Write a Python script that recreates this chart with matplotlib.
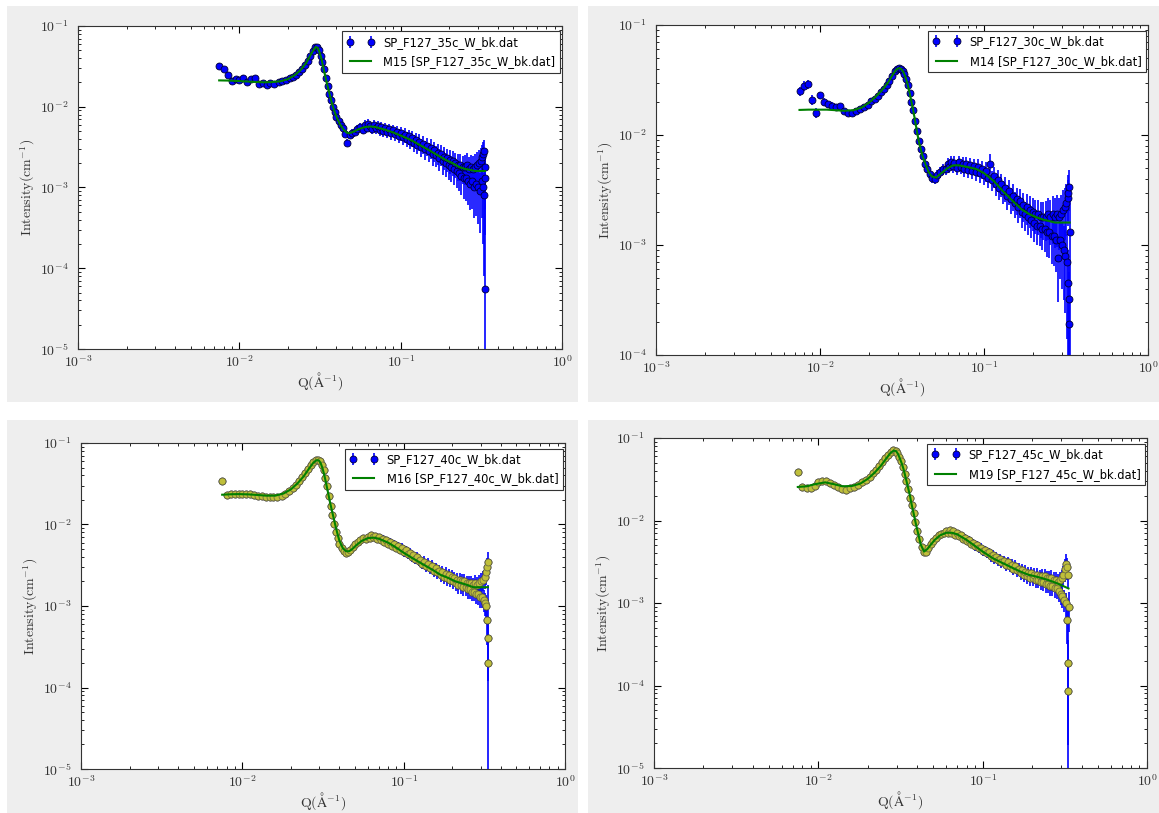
import numpy as np
import matplotlib
matplotlib.use('Agg')
import matplotlib.pyplot as plt
from matplotlib.patches import Rectangle
from matplotlib.ticker import FuncFormatter, LogLocator

plt.rcParams['mathtext.fontset'] = 'cm'

# measured Q grid (A^-1), shared by the four runs
q = [0.0075, 0.0080, 0.0085, 0.0090, 0.0095, 0.0100, 0.0106, 0.0112, 0.0118, 0.0125,
     0.0132, 0.0140, 0.0148, 0.0156, 0.0165, 0.0175, 0.0185, 0.0195, 0.0205, 0.0215,
     0.0225, 0.0235, 0.0245, 0.0255, 0.0265, 0.0275, 0.0285, 0.0295, 0.0303, 0.0311,
     0.0319, 0.0327, 0.0335, 0.0343, 0.0352, 0.0361, 0.0370, 0.0380, 0.0390, 0.0400,
     0.0412, 0.0425, 0.0438, 0.0452, 0.0467, 0.0483, 0.0500, 0.0520, 0.0540, 0.0560,
     0.0585, 0.0600, 0.0615, 0.0630, 0.0645, 0.0660, 0.0680, 0.0700, 0.0720, 0.0740,
     0.0760, 0.0780, 0.0800, 0.0825, 0.0850, 0.0875, 0.0900, 0.0925, 0.0950, 0.0975,
     0.1000, 0.1030, 0.1060, 0.1090, 0.1120, 0.1150, 0.1180, 0.1210, 0.1240, 0.1270,
     0.1300, 0.1340, 0.1380, 0.1420, 0.1460, 0.1500, 0.1540, 0.1580, 0.1620, 0.1660,
     0.1700, 0.1740, 0.1780, 0.1820, 0.1860, 0.1900, 0.1940, 0.1980, 0.2020, 0.2060,
     0.2100, 0.2140, 0.2180, 0.2220, 0.2260, 0.2300, 0.2340, 0.2380, 0.2420, 0.2460,
     0.2500, 0.2540, 0.2580, 0.2620, 0.2660, 0.2700, 0.2740, 0.2780, 0.2820, 0.2860,
     0.2900, 0.2940, 0.2980, 0.3020, 0.3060, 0.3100, 0.3140, 0.3170, 0.3200, 0.3230,
     0.3250, 0.3270, 0.3290, 0.3310, 0.3320, 0.3330]

# Q grid of the model curves
fit_q = [0.0075, 0.0085, 0.0095, 0.011, 0.0125, 0.014, 0.016, 0.018, 0.020, 0.022,
         0.024, 0.026, 0.0275, 0.0288, 0.0298, 0.0306, 0.0314, 0.0322, 0.033, 0.034,
         0.035, 0.036, 0.037, 0.038, 0.039, 0.040, 0.042, 0.044, 0.046, 0.048,
         0.051, 0.055, 0.060, 0.065, 0.070, 0.080, 0.090, 0.100, 0.115, 0.130,
         0.150, 0.170, 0.190, 0.210, 0.230, 0.250, 0.270, 0.290, 0.310, 0.333]

# 35c
I_35c = [0.032, 0.029, 0.025, 0.021, 0.022, 0.0215, 0.023, 0.0205, 0.022, 0.0225,
         0.019, 0.0195, 0.0188, 0.0198, 0.0192, 0.0200, 0.0206, 0.0212, 0.0225, 0.0232,
         0.0250, 0.0272, 0.0295, 0.0325, 0.0370, 0.0430, 0.0495, 0.0548, 0.0550, 0.0500,
         0.0430, 0.0355, 0.0290, 0.0230, 0.0180, 0.0145, 0.0120, 0.0100, 0.0085, 0.0074,
         0.0066, 0.0060, 0.0054, 0.0046, 0.0036, 0.0045, 0.0047, 0.0049, 0.0053, 0.0056,
         0.0052, 0.0060, 0.0055, 0.0062, 0.0057, 0.0053, 0.0060, 0.0054, 0.0058, 0.0051,
         0.0056, 0.0050, 0.0054, 0.0049, 0.0053, 0.0047, 0.0051, 0.0046, 0.0049, 0.0044,
         0.0047, 0.0042, 0.0045, 0.0040, 0.0043, 0.0038, 0.0041, 0.0036, 0.0039, 0.0034,
         0.0037, 0.0032, 0.0035, 0.0030, 0.0033, 0.0028, 0.0031, 0.0026, 0.0029, 0.0025,
         0.0027, 0.0023, 0.0026, 0.0021, 0.0024, 0.0020, 0.0023, 0.0019, 0.0022, 0.0018,
         0.0021, 0.0017, 0.0020, 0.0016, 0.0019, 0.0015, 0.0019, 0.0014, 0.0018, 0.0013,
         0.0018, 0.0013, 0.0019, 0.0012, 0.0017, 0.0011, 0.0018, 0.0012, 0.0017, 0.0010,
         0.0018, 0.0011, 0.0019, 0.0010, 0.0020, 0.0009, 0.0021, 0.0012, 0.0024, 0.0010,
         0.0026, 0.0008, 0.0028, 0.0013, 0.0018, 0.000055]
err_35c = [0.08, 0.08, 0.08, 0.07, 0.07, 0.07, 0.06, 0.06, 0.06, 0.06,
           0.05, 0.05, 0.05, 0.05, 0.05, 0.05, 0.05, 0.05, 0.05, 0.05,
           0.05, 0.05, 0.05, 0.05, 0.05, 0.05, 0.05, 0.05, 0.05, 0.05,
           0.05, 0.05, 0.05, 0.05, 0.05, 0.05, 0.05, 0.05, 0.05, 0.05,
           0.06, 0.06, 0.07, 0.08, 0.10, 0.10, 0.12, 0.12, 0.12, 0.12,
           0.12, 0.13, 0.12, 0.13, 0.13, 0.14, 0.13, 0.14, 0.14, 0.15,
           0.15, 0.16, 0.15, 0.16, 0.16, 0.17, 0.17, 0.18, 0.18, 0.19,
           0.19, 0.20, 0.20, 0.21, 0.21, 0.22, 0.22, 0.23, 0.23, 0.24,
           0.24, 0.25, 0.25, 0.26, 0.26, 0.27, 0.27, 0.28, 0.28, 0.29,
           0.29, 0.30, 0.30, 0.32, 0.31, 0.33, 0.32, 0.34, 0.33, 0.35,
           0.34, 0.36, 0.35, 0.38, 0.36, 0.40, 0.37, 0.42, 0.38, 0.45,
           0.40, 0.48, 0.40, 0.50, 0.42, 0.52, 0.42, 0.55, 0.45, 0.58,
           0.45, 0.60, 0.45, 0.65, 0.45, 0.70, 0.45, 0.65, 0.40, 0.80,
           0.40, 0.90, 0.40, 0.80, 0.70, 30.0]
fit_35c = [0.0212, 0.0211, 0.0209, 0.0206, 0.0203, 0.0201, 0.0202, 0.0207, 0.0220, 0.0245,
           0.0285, 0.0350, 0.0430, 0.0505, 0.0550, 0.0535, 0.0475, 0.0400, 0.0320, 0.0245,
           0.0190, 0.0152, 0.0122, 0.0101, 0.0086, 0.0075, 0.0061, 0.0053, 0.0048, 0.0047,
           0.0049, 0.0053, 0.0056, 0.0057, 0.0056, 0.0052, 0.0048, 0.0044, 0.0039, 0.0034,
           0.0029, 0.0025, 0.0022, 0.0020, 0.0018, 0.0017, 0.00165, 0.0016, 0.0016, 0.0016]

# 30c
I_30c = [0.025, 0.028, 0.029, 0.021, 0.016, 0.023, 0.020, 0.019, 0.0185, 0.0178,
         0.0182, 0.0165, 0.0158, 0.0160, 0.0165, 0.0172, 0.0178, 0.0188, 0.0205, 0.0212,
         0.0228, 0.0245, 0.0262, 0.0285, 0.0312, 0.0345, 0.0378, 0.0395, 0.0405, 0.0402,
         0.0385, 0.0360, 0.0320, 0.0285, 0.0240, 0.0200, 0.0168, 0.0135, 0.0108, 0.0088,
         0.0075, 0.0064, 0.0055, 0.0049, 0.0044, 0.0041, 0.0040, 0.0043, 0.0046, 0.0049,
         0.0049, 0.0055, 0.0051, 0.0057, 0.0052, 0.0056, 0.0050, 0.0057, 0.0051, 0.0055,
         0.0049, 0.0054, 0.0048, 0.0053, 0.0047, 0.0052, 0.0046, 0.0051, 0.0045, 0.0049,
         0.0043, 0.0047, 0.0041, 0.0055, 0.0039, 0.0042, 0.0036, 0.0039, 0.0033, 0.0036,
         0.0031, 0.0033, 0.0028, 0.0031, 0.0026, 0.0028, 0.0024, 0.0026, 0.0022, 0.0025,
         0.0020, 0.0023, 0.0019, 0.0022, 0.0018, 0.0021, 0.0017, 0.0020, 0.0016, 0.0019,
         0.0015, 0.0019, 0.0015, 0.0018, 0.0014, 0.0018, 0.0014, 0.0018, 0.0013, 0.0019,
         0.0013, 0.0018, 0.0012, 0.0019, 0.0012, 0.0018, 0.0011, 0.0019, 0.00076, 0.0018,
         0.0011, 0.0019, 0.0010, 0.0021, 0.0009, 0.0022, 0.0008, 0.0024, 0.0007, 0.0027,
         0.00045, 0.0030, 0.00032, 0.0034, 0.00019, 0.0013]
err_30c = [0.10, 0.10, 0.10, 0.10, 0.10, 0.08, 0.08, 0.07, 0.07, 0.06,
           0.06, 0.05, 0.05, 0.05, 0.05, 0.05, 0.05, 0.05, 0.05, 0.05,
           0.05, 0.05, 0.05, 0.05, 0.05, 0.05, 0.05, 0.05, 0.05, 0.05,
           0.05, 0.05, 0.05, 0.05, 0.05, 0.05, 0.05, 0.05, 0.05, 0.05,
           0.06, 0.06, 0.07, 0.08, 0.09, 0.10, 0.10, 0.11, 0.12, 0.12,
           0.12, 0.13, 0.12, 0.13, 0.13, 0.14, 0.13, 0.14, 0.14, 0.15,
           0.15, 0.16, 0.15, 0.16, 0.16, 0.17, 0.17, 0.18, 0.18, 0.19,
           0.19, 0.20, 0.20, 0.21, 0.21, 0.22, 0.22, 0.23, 0.23, 0.24,
           0.24, 0.25, 0.25, 0.26, 0.26, 0.27, 0.27, 0.28, 0.28, 0.29,
           0.29, 0.30, 0.30, 0.31, 0.31, 0.32, 0.32, 0.33, 0.33, 0.34,
           0.34, 0.35, 0.35, 0.36, 0.36, 0.38, 0.38, 0.40, 0.40, 0.42,
           0.42, 0.44, 0.44, 0.46, 0.46, 0.48, 0.48, 0.50, 0.60, 0.50,
           0.55, 0.50, 0.60, 0.50, 0.65, 0.50, 0.70, 0.50, 0.80, 0.45,
           1.00, 0.45, 1.20, 0.40, 2.00, 1.50]
fit_30c = [0.0169, 0.0170, 0.0170, 0.0170, 0.0168, 0.0166, 0.0168, 0.0178, 0.0198, 0.0225,
           0.0258, 0.0300, 0.0345, 0.0385, 0.0402, 0.0405, 0.0395, 0.0375, 0.0345, 0.0300,
           0.0250, 0.0205, 0.0168, 0.0135, 0.0108, 0.0088, 0.0066, 0.0054, 0.0046, 0.0042,
           0.0041, 0.0045, 0.0050, 0.0053, 0.0053, 0.0051, 0.0049, 0.0045, 0.0038, 0.0031,
           0.0025, 0.0021, 0.0019, 0.00178, 0.0017, 0.00165, 0.0016, 0.0016, 0.0016, 0.0016]

# 40c
I_40c = [0.034, 0.0232, 0.0236, 0.0238, 0.0240, 0.0237, 0.0239, 0.0234, 0.0232, 0.0226,
         0.0224, 0.0220, 0.0218, 0.0216, 0.0220, 0.0226, 0.0238, 0.0255, 0.0280, 0.0305,
         0.0340, 0.0380, 0.0425, 0.0475, 0.0530, 0.0578, 0.0612, 0.0620, 0.0595, 0.0540,
         0.0460, 0.0375, 0.0295, 0.0225, 0.0170, 0.0130, 0.0102, 0.0082, 0.0068, 0.0058,
         0.0051, 0.0047, 0.0045, 0.0046, 0.0049, 0.0053, 0.0057, 0.0061, 0.0065, 0.0068,
         0.0066, 0.0071, 0.0068, 0.0074, 0.0070, 0.0073, 0.0067, 0.0070, 0.0064, 0.0067,
         0.0061, 0.0064, 0.0058, 0.0061, 0.0055, 0.0058, 0.0052, 0.0055, 0.0049, 0.0052,
         0.0046, 0.0048, 0.0043, 0.0045, 0.0040, 0.0042, 0.0038, 0.0040, 0.0036, 0.0037,
         0.0033, 0.0035, 0.0031, 0.0033, 0.0029, 0.0031, 0.0027, 0.0029, 0.0026, 0.0027,
         0.0024, 0.0026, 0.0023, 0.0025, 0.0022, 0.0024, 0.0021, 0.0023, 0.0020, 0.0022,
         0.0019, 0.0021, 0.0018, 0.0021, 0.0018, 0.0020, 0.0017, 0.0020, 0.0017, 0.0019,
         0.0016, 0.0019, 0.0016, 0.0019, 0.0015, 0.0018, 0.0015, 0.0019, 0.0014, 0.0018,
         0.0014, 0.0019, 0.0013, 0.0020, 0.0013, 0.0021, 0.0012, 0.0023, 0.0011, 0.0026,
         0.0010, 0.0030, 0.00067, 0.0035, 0.00040, 0.00020]
err_40c = [0.06, 0.05, 0.05, 0.05, 0.05, 0.05, 0.05, 0.04, 0.04, 0.04,
           0.04, 0.04, 0.04, 0.04, 0.04, 0.04, 0.04, 0.04, 0.04, 0.04,
           0.04, 0.04, 0.04, 0.04, 0.04, 0.04, 0.04, 0.04, 0.04, 0.04,
           0.04, 0.04, 0.04, 0.04, 0.04, 0.04, 0.04, 0.04, 0.04, 0.04,
           0.05, 0.05, 0.05, 0.06, 0.06, 0.06, 0.07, 0.07, 0.07, 0.08,
           0.08, 0.08, 0.08, 0.09, 0.09, 0.09, 0.09, 0.10, 0.10, 0.10,
           0.10, 0.11, 0.11, 0.11, 0.11, 0.12, 0.12, 0.12, 0.12, 0.13,
           0.13, 0.13, 0.13, 0.14, 0.14, 0.14, 0.14, 0.15, 0.15, 0.15,
           0.15, 0.16, 0.16, 0.16, 0.16, 0.17, 0.17, 0.17, 0.17, 0.18,
           0.18, 0.18, 0.18, 0.19, 0.19, 0.19, 0.19, 0.20, 0.20, 0.20,
           0.20, 0.21, 0.21, 0.21, 0.21, 0.22, 0.22, 0.22, 0.22, 0.23,
           0.23, 0.23, 0.23, 0.24, 0.24, 0.24, 0.24, 0.25, 0.25, 0.25,
           0.26, 0.26, 0.27, 0.27, 0.28, 0.28, 0.30, 0.30, 0.32, 0.30,
           0.35, 0.30, 0.50, 0.30, 0.70, 8.0]
fit_40c = [0.0232, 0.0235, 0.0236, 0.0234, 0.0230, 0.0226, 0.0226, 0.0240, 0.0270, 0.0320,
           0.0390, 0.0490, 0.0570, 0.0615, 0.0612, 0.0565, 0.0490, 0.0405, 0.0325, 0.0245,
           0.0185, 0.0145, 0.0115, 0.0092, 0.0075, 0.0063, 0.0051, 0.0047, 0.0047, 0.0050,
           0.0056, 0.0063, 0.0068, 0.0069, 0.0067, 0.0060, 0.0052, 0.0045, 0.0038, 0.0033,
           0.0028, 0.0024, 0.0022, 0.0020, 0.0019, 0.0018, 0.0017, 0.0017, 0.0017, 0.0017]

# 45c
I_45c = [0.039, 0.0252, 0.0250, 0.0248, 0.0262, 0.0290, 0.0305, 0.0298, 0.0282, 0.0270,
         0.0258, 0.0240, 0.0237, 0.0245, 0.0258, 0.0272, 0.0290, 0.0312, 0.0340, 0.0375,
         0.0415, 0.0460, 0.0510, 0.0565, 0.0625, 0.0675, 0.0710, 0.0700, 0.0650, 0.0590,
         0.0520, 0.0450, 0.0370, 0.0300, 0.0240, 0.0190, 0.0152, 0.0122, 0.0095, 0.0075,
         0.0060, 0.0048, 0.0041, 0.0042, 0.0046, 0.0052, 0.0057, 0.0062, 0.0066, 0.0069,
         0.0070, 0.0075, 0.0071, 0.0076, 0.0070, 0.0074, 0.0067, 0.0070, 0.0064, 0.0066,
         0.0060, 0.0062, 0.0056, 0.0058, 0.0052, 0.0054, 0.0049, 0.0050, 0.0046, 0.0047,
         0.0043, 0.0044, 0.0040, 0.0041, 0.0037, 0.0038, 0.0035, 0.0036, 0.0033, 0.0034,
         0.0031, 0.0032, 0.0029, 0.0031, 0.0028, 0.0029, 0.0026, 0.0028, 0.0025, 0.0026,
         0.0023, 0.0025, 0.0022, 0.0024, 0.0021, 0.0023, 0.0020, 0.0023, 0.0020, 0.0022,
         0.0019, 0.0022, 0.0019, 0.0021, 0.0018, 0.0021, 0.0018, 0.0021, 0.0017, 0.0020,
         0.0017, 0.0020, 0.0016, 0.0020, 0.0016, 0.0019, 0.0015, 0.0019, 0.0015, 0.0018,
         0.0014, 0.0019, 0.0013, 0.0020, 0.0012, 0.0022, 0.0011, 0.0026, 0.0010, 0.0030,
         0.00063, 0.0027, 0.00019, 0.0022, 0.000085, 0.0009]
err_45c = [0.06, 0.05, 0.05, 0.05, 0.05, 0.05, 0.05, 0.04, 0.04, 0.04,
           0.04, 0.04, 0.04, 0.04, 0.04, 0.04, 0.04, 0.04, 0.04, 0.04,
           0.04, 0.04, 0.04, 0.04, 0.04, 0.04, 0.04, 0.04, 0.04, 0.04,
           0.04, 0.04, 0.04, 0.04, 0.04, 0.04, 0.04, 0.04, 0.04, 0.04,
           0.05, 0.05, 0.05, 0.06, 0.06, 0.06, 0.07, 0.07, 0.07, 0.08,
           0.08, 0.08, 0.08, 0.09, 0.09, 0.09, 0.09, 0.10, 0.10, 0.10,
           0.10, 0.11, 0.11, 0.11, 0.11, 0.12, 0.12, 0.12, 0.12, 0.13,
           0.13, 0.13, 0.13, 0.14, 0.14, 0.14, 0.14, 0.15, 0.15, 0.15,
           0.15, 0.16, 0.16, 0.16, 0.16, 0.17, 0.17, 0.17, 0.17, 0.18,
           0.18, 0.18, 0.18, 0.19, 0.19, 0.19, 0.19, 0.20, 0.20, 0.20,
           0.20, 0.21, 0.21, 0.21, 0.21, 0.22, 0.22, 0.22, 0.22, 0.23,
           0.23, 0.23, 0.23, 0.24, 0.24, 0.24, 0.24, 0.25, 0.25, 0.25,
           0.26, 0.26, 0.27, 0.27, 0.28, 0.28, 0.30, 0.30, 0.32, 0.30,
           0.50, 0.30, 0.90, 0.30, 12.0, 0.50]
fit_45c = [0.0255, 0.0260, 0.0275, 0.0290, 0.0275, 0.0260, 0.0262, 0.0280, 0.0320, 0.0380,
           0.0460, 0.0570, 0.0660, 0.0705, 0.0690, 0.0635, 0.0560, 0.0490, 0.0420, 0.0330,
           0.0260, 0.0205, 0.0155, 0.0122, 0.0096, 0.0077, 0.0051, 0.0042, 0.0045, 0.0050,
           0.0058, 0.0066, 0.0071, 0.0071, 0.0068, 0.0058, 0.0049, 0.0042, 0.0035, 0.0031,
           0.0027, 0.0024, 0.0022, 0.0021, 0.0020, 0.0019, 0.0018, 0.0017, 0.0016, 0.0015]

data_labels = ['SP_F127_35c_W_bk.dat', 'SP_F127_30c_W_bk.dat',
               'SP_F127_40c_W_bk.dat', 'SP_F127_45c_W_bk.dat']
model_names = ['M15', 'M14', 'M16', 'M19']

W, H = 1159., 813.
fig = plt.figure(figsize=(W/100., H/100.), dpi=100)
fig.patch.set_facecolor('white')

def fx(x): return x/W
def fy(y): return 1. - y/H

# (gray screenshot box, axes box) in pixels: left, top, right, bottom
boxes = [((7, 6, 578, 402), (78, 26, 562, 349)),
         ((588, 6, 1159, 402), (656, 25, 1148, 355)),
         ((7, 420, 578, 813), (81, 443, 565, 769)),
         ((588, 420, 1159, 813), (654, 438, 1147, 768))]
ylims = [(1e-5, 1e-1), (1e-4, 1e-1), (1e-5, 1e-1), (1e-5, 1e-1)]

runs = [(I_35c, err_35c, fit_35c), (I_30c, err_30c, fit_30c),
        (I_40c, err_40c, fit_40c), (I_45c, err_45c, fit_45c)]

qa = np.array(q)
for k in range(4):
    (gl, gt, gr, gb), (al, at, ar, ab) = boxes[k]
    fig.patches.append(Rectangle((fx(gl), fy(gb)), fx(gr-gl), (gb-gt)/H,
                                 transform=fig.transFigure, facecolor='#eeeeee',
                                 edgecolor='none', zorder=-10))
    ax = fig.add_axes([fx(al), fy(ab), fx(ar-al), (ab-at)/H])
    I, rel, fit = runs[k]
    I = np.array(I)
    dI = I*np.array(rel)
    eb = ax.errorbar(qa, I, yerr=dI, fmt='o', color='b', mec='#000033', mew=0.6, ms=5,
                     ecolor='b', elinewidth=1.2, capsize=0, label=data_labels[k])
    if k >= 2:
        ax.plot(qa, I, 'o', mfc='#bfbf3a', mec='#6e6e40', mew=0.6, ms=5, zorder=2.5)
    ln, = ax.plot(fit_q, fit, '-', color=(0, 0.5, 0), lw=1.5, zorder=3,
                  label=model_names[k] + ' [' + data_labels[k] + ']')
    ax.set_xscale('log')
    ax.set_yscale('log')
    ax.set_xlim(1e-3, 1.)
    ax.set_ylim(*ylims[k])
    ax.xaxis.set_major_locator(LogLocator(base=10, numticks=10))
    ax.yaxis.set_major_locator(LogLocator(base=10, numticks=10))
    fmt = FuncFormatter(lambda v, p: r'$10^{%d}$' % int(round(np.log10(v))))
    ax.xaxis.set_major_formatter(fmt)
    ax.yaxis.set_major_formatter(fmt)
    ax.tick_params(which='both', direction='in', top=True, right=True,
                   labelsize=10, labelcolor='#333333')
    ax.tick_params(axis='x', which='major', pad=4)
    ax.tick_params(axis='y', which='major', pad=7)
    ax.tick_params(which='major', length=5)
    ax.tick_params(which='minor', length=2.5)
    for s in ax.spines.values():
        s.set_color('#333333')
    ax.set_xlabel(r'$\mathrm{Q(\AA^{-1})}$', fontsize=10, color='#333333', labelpad=0)
    ax.set_ylabel(r'$\mathrm{Intensity(cm^{-1})}$', fontsize=10, color='#333333',
                  labelpad=2)
    leg = ax.legend([eb, ln], [data_labels[k], model_names[k] + ' [' + data_labels[k] + ']'],
                    loc='upper right', bbox_to_anchor=(0.996, 0.983), borderaxespad=0,
                    numpoints=2, fontsize=8.3, fancybox=False, framealpha=1,
                    edgecolor='#333333', handlelength=2.4, labelspacing=0.55)
    leg.get_frame().set_linewidth(0.8)

fig.savefig('out.png', dpi=100, facecolor=fig.get_facecolor())
